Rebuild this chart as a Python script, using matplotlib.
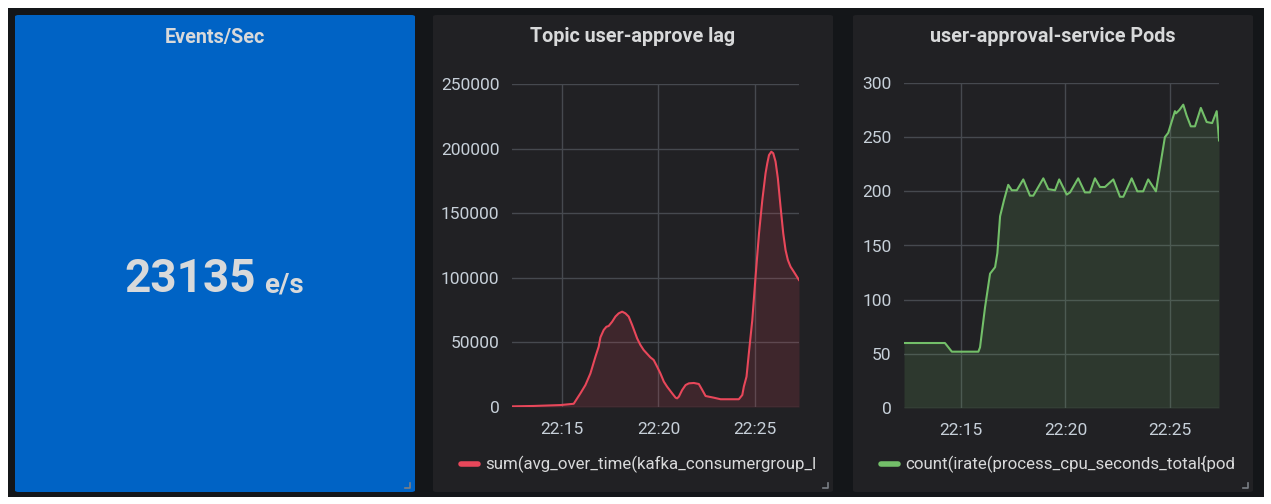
import matplotlib
matplotlib.use("Agg")
import matplotlib.pyplot as plt
from matplotlib.patches import FancyBboxPatch
from matplotlib.lines import Line2D

stat_title = "Events/Sec"
stat_value = "23135"
stat_unit = "e/s"

lag_title = "Topic user-approve lag"
lag_legend = "sum(avg_over_time(kafka_consumergroup_l"
lag_min = [12.38, 13.5, 14.9, 15.59, 15.94, 16.20, 16.46, 16.72, 16.89, 16.98,
           17.15, 17.29, 17.41, 17.59, 17.76, 17.93, 18.11, 18.28, 18.45, 18.63,
           18.89, 19.06, 19.23, 19.58, 19.75, 19.93, 20.10, 20.28, 20.45, 20.71,
           20.89, 20.97, 21.06, 21.23, 21.41, 21.58, 21.84, 22.10, 22.28, 22.45,
           22.88, 23.23, 23.58, 24.18, 24.36, 24.44, 24.58, 24.70, 24.88, 25.05,
           25.23, 25.40, 25.57, 25.66, 25.75, 25.87, 25.97, 26.09, 26.21, 26.35,
           26.49, 26.61, 26.73, 26.87, 27.04, 27.31]
lag_val = [500, 800, 1500, 2500, 10600, 17000, 26000, 38900, 46700, 53900,
           59600, 62100, 62700, 66000, 70000, 72500, 73800, 72500, 70000, 63500,
           53100, 48000, 44100, 38400, 36400, 31200, 26000, 19600, 15700, 10600,
           7200, 6700, 8000, 13100, 17000, 18300, 18600, 17800, 13100, 8500,
           7200, 6000, 6000, 6000, 9300, 15700, 23500, 41500, 67300, 100900,
           134400, 160000, 180900, 188600, 195000, 197600, 196400, 190000, 177000, 155000,
           134400, 121500, 113800, 108600, 104700, 98300]

pods_title = "user-approval-service Pods"
pods_legend = "count(irate(process_cpu_seconds_total{pod"
pods_min = [12.27, 14.23, 14.56, 15.83, 15.91, 16.15, 16.39, 16.63, 16.74, 16.87,
            17.06, 17.26, 17.43, 17.67, 17.98, 18.30, 18.46, 18.94, 19.18, 19.50,
            19.70, 20.06, 20.22, 20.61, 20.93, 21.17, 21.41, 21.65, 21.89, 22.29,
            22.61, 22.77, 23.17, 23.44, 23.72, 23.96, 24.33, 24.53, 24.76, 24.92,
            25.08, 25.24, 25.29, 25.45, 25.64, 25.80, 26.00, 26.20, 26.48, 26.76,
            27.02, 27.24, 27.35]
pods_val = [60, 60, 52, 52, 56, 93, 124, 130, 143, 177,
            192, 206, 201, 201, 211, 196, 196, 212, 202, 201,
            211, 197, 199, 212, 199, 199, 212, 204, 204, 211,
            195, 195, 212, 200, 200, 211, 200, 223, 250, 254,
            264, 274, 272, 275, 280, 270, 260, 260, 277, 264,
            263, 274, 247]

xticks = [15, 20, 25]
xtick_labels = ["22:15", "22:20", "22:25"]

W, H = 1271, 504
plt.rcParams['font.family'] = ['Roboto', 'DejaVu Sans']
fig = plt.figure(figsize=(W / 100, H / 100), dpi=100)
fig.patch.set_facecolor("white")

TXT = "#d8d9da"
TICK = "#c7d0d9"
GRID = "#46494f"
PANEL = "#212124"


def rect(x0, y0, x1, y1):
    # Pixel -> Figurkoordinaten
    return [x0 / W, 1 - y1 / H, (x1 - x0) / W, (y1 - y0) / H]


def box(x0, y0, x1, y1, color, r=0.0):
    l, b, w, h = rect(x0, y0, x1, y1)
    p = FancyBboxPatch((l, b), w, h, boxstyle=f"round,pad=0,rounding_size={r}",
                       transform=fig.transFigure, facecolor=color, edgecolor="none",
                       zorder=0)
    fig.patches.append(p)


def px(x, y):
    return x / W, 1 - y / H


def handle(x, y):
    fig.lines.append(Line2D([(x - 5) / W, x / W, x / W], [1 - y / H, 1 - y / H, 1 - (y - 5) / H],
                            transform=fig.transFigure, color="#7b7f86", lw=1.2))


box(8, 8, 1264, 497, "#141619")
box(15, 15, 415, 492, "#0063c5", 0.003)
box(433, 15, 833, 492, PANEL, 0.003)
box(853, 15, 1253, 492, PANEL, 0.003)

# Stat-Panel
fig.text(*px(215, 37), stat_title, color=TXT, fontsize=14.2, fontweight="bold",
         ha="center", va="center")
fig.text(*px(256, 292), stat_value, color=TXT, fontsize=33, fontweight="bold",
         ha="right", va="baseline")
fig.text(*px(264, 292), stat_unit, color=TXT, fontsize=20, fontweight="bold",
         ha="left", va="baseline")
handle(410, 488)


def graph(ax_px, xs, ys, color, fill, ylim, yticks, xlim, title, title_x, legend, leg_x):
    ax = fig.add_axes(rect(*ax_px))
    ax.set_zorder(3)
    ax.set_facecolor("none")
    ax.plot(xs, ys, color=color, lw=1.5)
    ax.fill_between(xs, ys, 0, color=fill, alpha=0.15, lw=0)
    ax.set_xlim(*xlim)
    ax.set_ylim(*ylim)
    ax.set_xticks(xticks, xtick_labels)
    ax.set_yticks(yticks, [str(v) for v in yticks])
    for s in ax.spines.values():
        s.set_visible(False)
    ax.tick_params(length=0, labelsize=12.5, labelcolor=TICK)
    ax.tick_params(axis="x", pad=11)
    ax.tick_params(axis="y", pad=9)
    ax.grid(True, color=GRID, lw=1)
    ax.set_axisbelow(True)
    fig.text(*px(title_x, 37), title, color=TXT, fontsize=14.2, fontweight="bold",
             ha="center", va="center")
    fig.lines.append(Line2D([leg_x / W, (leg_x + 17) / W], [1 - 464 / H] * 2,
                            transform=fig.transFigure, color=color, lw=4,
                            solid_capstyle="round"))
    fig.text(*px(leg_x + 24, 464), legend, color=TXT, fontsize=12.2,
             ha="left", va="center")
    return ax


graph((512, 84, 799, 407), lag_min, lag_val, "#e8475a", "#e8475a",
      (0, 250000), [0, 50000, 100000, 150000, 200000, 250000], (12.38, 27.31),
      lag_title, 633, lag_legend, 461)
handle(828, 488)

graph((904, 83, 1219, 408), pods_min, pods_val, "#73bf69", "#73bf69",
      (0, 300), [0, 50, 100, 150, 200, 250, 300], (12.27, 27.35),
      pods_title, 1053, pods_legend, 881)
handle(1248, 488)

fig.savefig("out.png", dpi=100, facecolor=fig.get_facecolor())
